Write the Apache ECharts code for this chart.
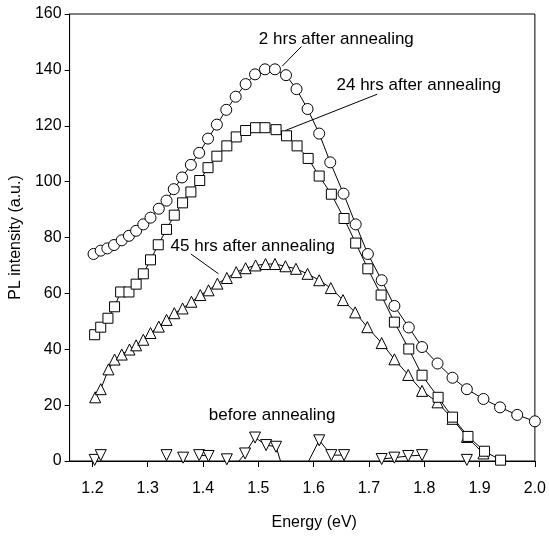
<!DOCTYPE html>
<html>
<head>
<meta charset="utf-8">
<script src="https://cdn.jsdelivr.net/npm/echarts@6/dist/echarts.min.js"></script>
<style>html,body{margin:0;padding:0;background:#fff;}#c{width:549px;height:536px;}</style>
</head>
<body>
<div id="c"></div>
<script>
// ---- data ----
const xTicks = [1.2, 1.3, 1.4, 1.5, 1.6, 1.7, 1.8, 1.9, 2.0];
const yTicks = [0, 20, 40, 60, 80, 100, 120, 140, 160];

const energy2h = [1.202,1.215,1.227,1.239,1.253,1.266,1.279,1.292,1.305,1.320,1.334,1.347,1.362,1.378,1.393,1.409,1.425,1.442,1.459,1.477,1.494,1.512,1.530,1.550,1.569,1.589,1.610,1.630,1.654,1.676,1.698,1.723,1.746,1.772,1.796,1.824,1.851,1.877,1.907,1.937,1.968,2.000];
const pl2h = [74.1,75.3,76.1,77.3,79.0,80.6,82.4,84.7,87.1,90.3,93.2,97.3,101.5,106.0,110.3,115.4,120.4,125.7,130.4,134.9,138.4,140.2,140.2,138.1,133.1,126.0,117.2,106.9,95.7,84.7,74.1,64.7,55.5,47.8,40.8,34.9,29.8,25.7,22.2,19.2,16.5,14.2];

const energy24h = [1.204,1.215,1.228,1.240,1.251,1.266,1.279,1.292,1.305,1.319,1.334,1.348,1.363,1.378,1.394,1.409,1.425,1.443,1.460,1.477,1.495,1.512,1.532,1.551,1.570,1.590,1.610,1.632,1.655,1.676,1.698,1.722,1.746,1.772,1.796,1.825,1.851,1.879,1.909,1.938];
const pl24h = [45.2,47.9,51.1,55.2,60.5,60.5,63.3,67.0,72.0,77.4,82.9,88.0,92.4,96.3,100.4,105.0,109.1,112.8,116.0,118.3,119.3,119.3,118.6,116.4,112.8,108.3,102.0,95.5,86.8,78.0,68.8,59.4,49.7,40.1,30.7,22.8,15.7,8.8,3.5,0.3];

const energy45h = [1.205,1.215,1.229,1.240,1.253,1.267,1.279,1.292,1.305,1.320,1.334,1.348,1.363,1.379,1.395,1.410,1.426,1.443,1.460,1.477,1.495,1.513,1.530,1.549,1.568,1.589,1.610,1.631,1.653,1.675,1.697,1.723,1.746,1.771,1.796,1.824,1.851,1.877,1.907];
const pl45h = [22.8,25.7,32.8,36.3,38.1,39.9,41.4,43.4,45.8,48.1,50.5,52.9,54.6,57.0,59.4,61.1,63.5,65.5,67.6,69.0,70.0,70.5,70.5,69.7,68.8,67.0,64.7,61.9,57.6,53.2,47.9,42.2,36.4,30.8,25.1,21.0,15.1,8.6,2.7];

// null = break in the line; 0 = line end on the axis (no marker)
const energyBefore = [1.204,1.215,null,1.334,null,1.364,null,1.393,1.410,null,1.443,null,1.465,1.476,1.494,1.514,1.532,1.540,null,1.591,1.610,1.632,1.655,null,1.723,1.746,1.771,1.796,null,1.877];
const plBefore =     [0.4,  2.1,  null,2.1,  null,1.2,  null,2.1,  1.8,  null,0.6,  null,0,    2.7,  8.4,  5.7,  5.1,  0,    null,0,    7.4,  2.1,  2.1,  null,0.7,  1.2,  1.8,  2.1,  null,0.4];

const annotTexts = ['2 hrs after annealing', '24 hrs after annealing', '45 hrs after annealing', 'before annealing'];
const annotTextE = [1.641, 1.790, 1.490, 1.525];
const annotTextI = [150.8, 134.5, 76.8, 16.3];
const arrowFromE = [1.578, 1.715, 1.378];
const arrowFromI = [148.4, 131.3, 74.1];
const arrowToE = [1.543, 1.549, 1.428];
const arrowToI = [141.3, 118.3, 67.0];

// ---- chart ----
const FONT = "'Liberation Sans', Arial, sans-serif";
const chart = echarts.init(document.getElementById('c'), null, {renderer: 'canvas'});
const zip = (a, b) => a.map((v, i) => (v == null || b[i] == null) ? ['-', '-'] : [v, b[i]]);

function mkSeries(name, e, p, symbol, size, rotate) {
  return {
    name, type: 'line', data: zip(e, p),
    symbol, symbolSize: size, symbolRotate: rotate || 0,
    showAllSymbol: true, clip: false,
    lineStyle: {color: '#000', width: 1},
    itemStyle: {color: '#fff', borderColor: '#000', borderWidth: 1},
    emphasis: {disabled: true}, animation: false
  };
}

const s2 = mkSeries('2h', energy2h, pl2h, 'circle', 11);
const s24 = mkSeries('24h', energy24h, pl24h, 'rect', 10);
const s45 = mkSeries('45h', energy45h, pl45h, 'triangle', 11);
const sB = mkSeries('before', energyBefore, plBefore, (v) => (v[1] === 0 ? 'none' : 'triangle'), 11, 180);

s2.markLine = {
  silent: true, animation: false, symbol: ['none', 'arrow'], symbolSize: [0, 8], z: 10,
  lineStyle: {color: '#000', width: 1, type: 'solid'}, label: {show: false},
  data: arrowFromE.map((e, i) => [{coord: [e, arrowFromI[i]]}, {coord: [arrowToE[i], arrowToI[i]]}])
};

chart.setOption({
  animation: false,
  backgroundColor: '#fff',
  grid: {left: 63, right: 11, top: 14, bottom: 70, show: true, borderColor: '#000', borderWidth: 1},
  xAxis: {
    type: 'value', min: 1.1587, max: 2.0,
    name: 'Energy (eV)', nameLocation: 'middle', nameGap: 54,
    nameTextStyle: {fontFamily: FONT, fontSize: 16, color: '#000', padding: [0, 0, 0, 24]},
    axisLine: {show: true, onZero: false, lineStyle: {color: '#000', width: 1}},
    axisTick: {show: true, inside: false, length: 6, lineStyle: {color: '#000'}, customValues: xTicks},
    axisLabel: {fontFamily: FONT, fontSize: 16, color: '#000', margin: 20, customValues: xTicks,
                formatter: (v) => v.toFixed(1)},
    splitLine: {show: false}
  },
  yAxis: {
    type: 'value', min: 0, max: 160, interval: 20,
    name: 'PL intensity (a.u.)', nameLocation: 'middle', nameGap: 24, nameRotate: 90,
    nameTextStyle: {fontFamily: FONT, fontSize: 16, color: '#000'},
    axisLine: {show: true, lineStyle: {color: '#000', width: 1}},
    axisTick: {show: true, inside: false, length: 5, lineStyle: {color: '#000'}},
    axisLabel: {fontFamily: FONT, fontSize: 16, color: '#000', margin: 8,
                formatter: (v) => yTicks.indexOf(v) >= 0 ? String(v) : ''},
    splitLine: {show: false}
  },
  series: [sB, s45, s24, s2]
});

const graphics = annotTexts.map((t, i) => {
  const p = chart.convertToPixel({gridIndex: 0}, [annotTextE[i], annotTextI[i]]);
  return {
    type: 'text', x: p[0], y: p[1], z: 100,
    style: {text: t, fontFamily: FONT, fontSize: 17, fill: '#000', align: 'center', verticalAlign: 'middle'}
  };
});
chart.setOption({graphic: graphics});
</script>
</body>
</html>
